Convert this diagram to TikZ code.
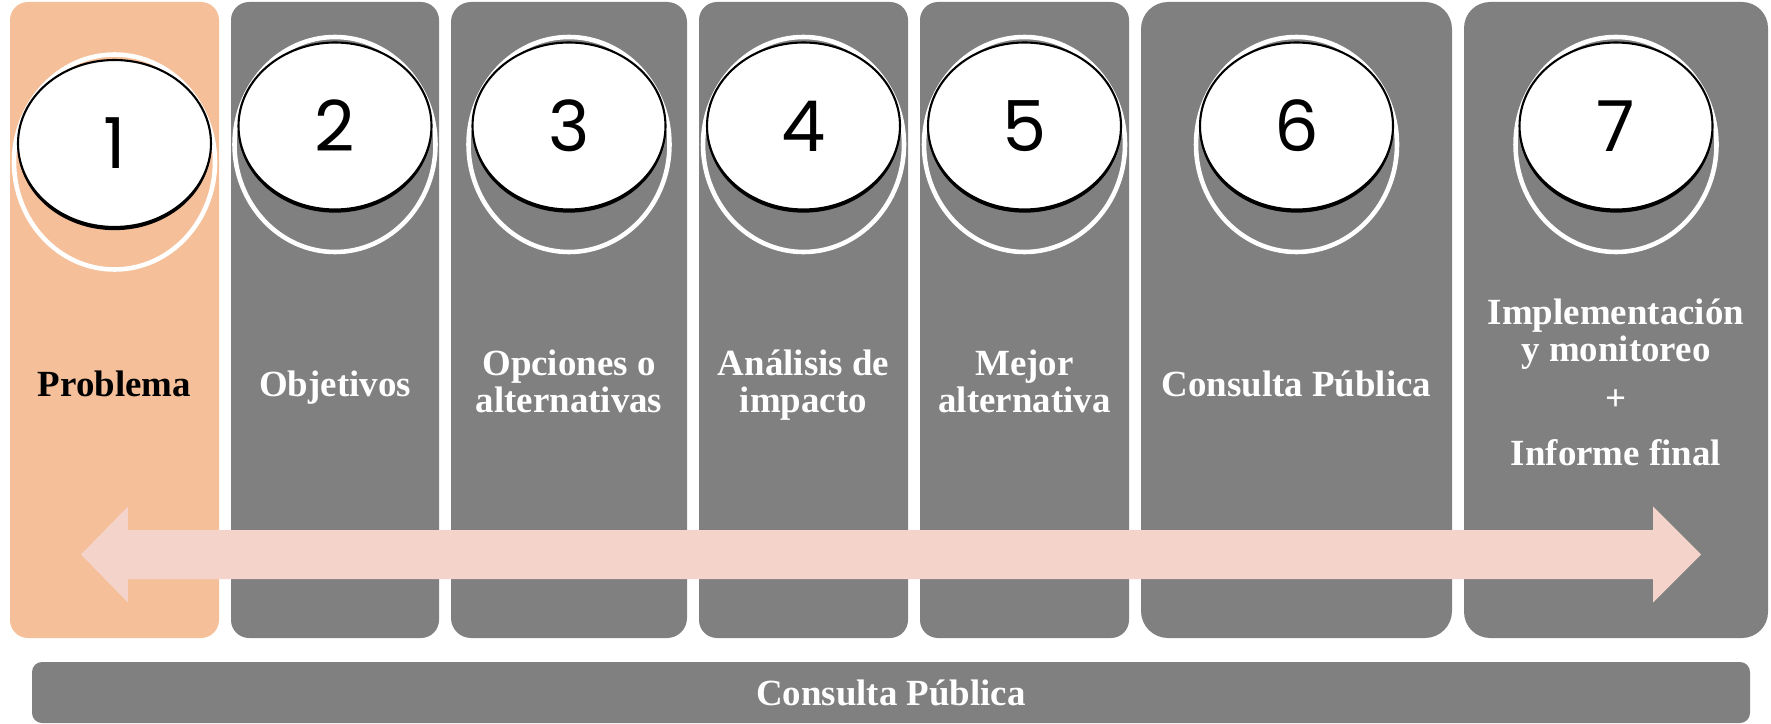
\documentclass[tikz,border=0pt]{standalone}
\usepackage{fontspec}
\setmainfont{Liberation Serif}
\newfontfamily\handfont{Poppins}
\usetikzlibrary{shapes.geometric}
\definecolor{stagegray}{HTML}{808080}
\definecolor{peach}{HTML}{F5BF99}
\definecolor{blush}{HTML}{F4D3CB}

\begin{document}
\begin{tikzpicture}[x=0.1mm,y=-0.1mm]
	\tikzset{stage/.style = {fill=stagegray, inner sep=0pt, minimum height=63.6mm}}
	\tikzset{ring/.style = {shape=ellipse, draw=white, line width=1.3pt, minimum width=20.1mm, minimum height=21.5mm, inner sep=0pt}}
	\tikzset{coin/.style = {shape=ellipse, fill=white, draw=black, line width=0.6pt, minimum width=19.3mm, minimum height=16.7mm, inner sep=0pt, preaction={fill=black, transform canvas={yshift=-0.9pt}}, font=\handfont\fontsize{20}{20}\selectfont}}
	\tikzset{stagetext/.style = {text=white, font=\bfseries\fontsize{10.5}{10.5}\selectfont, align=center, anchor=base}}
	\useasboundingbox (0,0) rectangle (1771,724);

	% columns
	\node[stage, fill=peach, minimum width=20.9mm, rounded corners=1.8mm] (b1) at (114.5,320) {};
	\node[stage, minimum width=20.8mm, rounded corners=1.8mm] (b2) at (335,320) {};
	\node[stage, minimum width=23.6mm, rounded corners=2mm] (b3) at (569,320) {};
	\node[stage, minimum width=20.9mm, rounded corners=1.8mm] (b4) at (803.5,320) {};
	\node[stage, minimum width=20.9mm, rounded corners=1.8mm] (b5) at (1024.5,320) {};
	\node[stage, minimum width=31.1mm, rounded corners=2.7mm] (b6) at (1296.5,320) {};
	\node[stage, minimum width=30.4mm, rounded corners=2.6mm] (b7) at (1616,320) {};
	\node[stage, minimum width=171.8mm, minimum height=6.1mm, rounded corners=1mm] (bar) at (891,692.5) {};

	% numbered coins
	\node[ring] (r1) at (114.5,162) {};
	\node[coin] (c1) at (114.5,143.5) {1};
	\node[ring] (r2) at (335,144.5) {};
	\node[coin] (c2) at (335,126) {2};
	\node[ring] (r3) at (569,144.5) {};
	\node[coin] (c3) at (569,126) {3};
	\node[ring] (r4) at (803.5,144.5) {};
	\node[coin] (c4) at (803.5,126) {4};
	\node[ring] (r5) at (1024.5,144.5) {};
	\node[coin] (c5) at (1024.5,126) {5};
	\node[ring] (r6) at (1296.5,144.5) {};
	\node[coin] (c6) at (1296.5,126) {6};
	\node[ring] (r7) at (1616,144.5) {};
	\node[coin] (c7) at (1616,126) {7};

	% double arrow across the columns
	\fill[blush] (81,554.5) -- (128,506.5) -- (128,530) -- (1653,530) -- (1653,506.5) -- (1701,554.5)
		-- (1653,602.5) -- (1653,579) -- (128,579) -- (128,602.5) -- cycle;

	% texts (base = last line)
	\node[stagetext, text=black] (t1) at (114.5,396) {Problema};
	\node[stagetext] (t2) at (335,396) {Objetivos};
	\node[stagetext] (t3) at (569,412) {Opciones o\\alternativas};
	\node[stagetext] (t4) at (803.5,412) {Análisis de\\impacto};
	\node[stagetext] (t5) at (1024.5,412) {Mejor\\alternativa};
	\node[stagetext] (t6) at (1296.5,396) {Consulta Pública};
	\node[stagetext] (t7) at (1616,465) {Implementación\\y monitoreo\\[3.5pt]+\\[5pt]Informe final};
	\node[stagetext] (tbar) at (891,705) {Consulta Pública};
\end{tikzpicture}
\end{document}
